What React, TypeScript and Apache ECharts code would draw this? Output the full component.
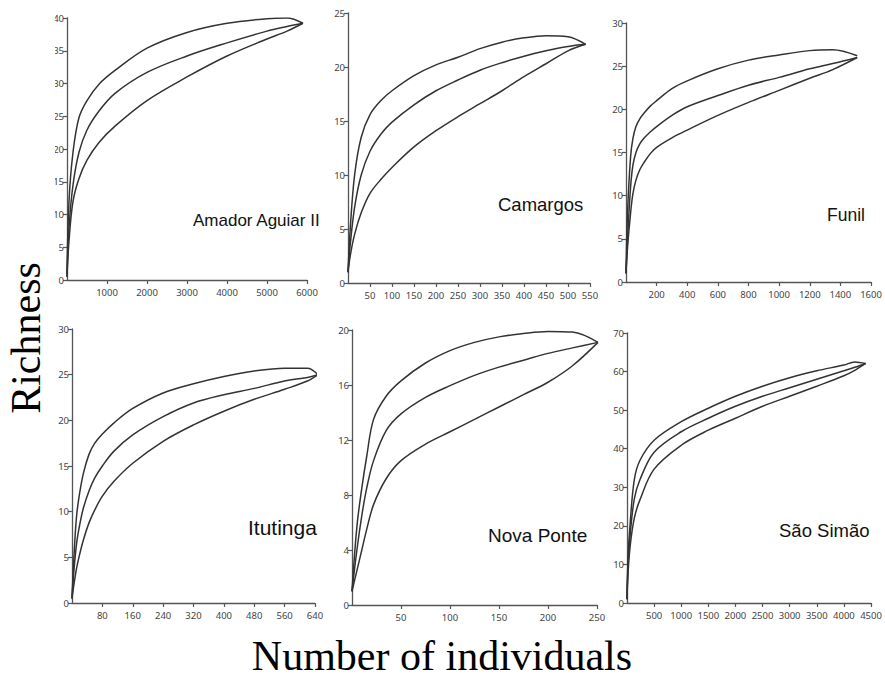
import React, { useEffect, useRef } from "react";
import * as echarts from "echarts";

// ---- Data ----
const panelNames = ["Amador Aguiar II", "Camargos", "Funil", "Itutinga", "Nova Ponte", "São Simão"];

// Amador Aguiar II
const amadorX = [0, 50, 150, 300, 500, 800, 1200, 2000, 3000, 4000, 5000, 5500, 5900];
const amadorUpper = [1, 12, 19.5, 24.8, 27.4, 29.9, 32.0, 35.4, 37.8, 39.2, 39.9, 40, 39.2];
const amadorMean = [0.5, 8, 14.5, 19.5, 22.9, 25.8, 28.5, 31.7, 34.2, 36.2, 38, 38.7, 39.2];
const amadorLower = [0.5, 6, 12, 15.5, 18.3, 21, 23.5, 27.4, 31, 34.2, 36.8, 38, 39.2];

// Camargos
const camargosX = [0, 5, 15, 30, 50, 75, 100, 150, 200, 250, 300, 350, 400, 450, 500, 540];
const camargosUpper = [1, 5, 10, 13.5, 15.6, 16.9, 17.8, 19.2, 20.2, 20.9, 21.7, 22.3, 22.7, 22.9, 22.8, 22.1];
const camargosMean = [1, 3.5, 7, 10, 12.2, 13.8, 14.9, 16.5, 17.8, 18.8, 19.7, 20.4, 21.0, 21.5, 21.9, 22.1];
const camargosLower = [1, 2.5, 4.5, 6.5, 8.3, 9.6, 10.7, 12.6, 14.1, 15.4, 16.6, 17.8, 19.1, 20.3, 21.5, 22.1];

// Funil
const funilX = [0, 10, 30, 45, 65, 90, 120, 160, 200, 300, 400, 600, 800, 1000, 1200, 1350, 1510];
const funilUpper = [1, 8, 14.5, 16.6, 18, 18.9, 19.6, 20.4, 21.0, 22.4, 23.3, 24.7, 25.7, 26.3, 26.8, 26.9, 26.2];
const funilMean = [1, 5, 11, 13.5, 15.0, 16.0, 16.7, 17.4, 18.0, 19.3, 20.3, 21.6, 22.8, 23.7, 24.7, 25.3, 26];
const funilLower = [1, 4, 8, 10.2, 11.8, 13, 13.9, 14.9, 15.6, 16.7, 17.6, 19.3, 20.8, 22.2, 23.6, 24.6, 26];

// Itutinga
const itutingaX = [0, 5, 12, 20, 30, 45, 60, 80, 110, 160, 240, 320, 400, 480, 560, 620, 648];
const itutingaUpper = [0.5, 5, 9.5, 12, 14.2, 16.3, 17.5, 18.5, 19.7, 21.3, 23, 24, 24.8, 25.4, 25.7, 25.7, 25];
const itutingaMean = [0.5, 3.5, 6.5, 8.5, 10.4, 12.3, 13.7, 15.0, 16.6, 18.4, 20.4, 21.9, 22.8, 23.5, 24.3, 24.7, 25];
const itutingaLower = [0.5, 2, 3.8, 5.3, 6.9, 8.8, 10.2, 11.7, 13.3, 15.3, 17.7, 19.5, 21, 22.3, 23.4, 24.3, 25];

// Nova Ponte
const novaX = [0, 5, 10, 15, 22, 35, 50, 75, 100, 125, 150, 175, 200, 225, 251];
const novaUpper = [1, 5.7, 8.5, 10.8, 13.5, 15.2, 16.3, 17.6, 18.5, 19.1, 19.5, 19.75, 19.9, 19.85, 19.1];
const novaMean = [1, 4, 6.5, 8.5, 10.5, 12.7, 13.9, 15.1, 15.95, 16.7, 17.3, 17.8, 18.3, 18.7, 19.1];
const novaLower = [1, 2.5, 4, 5.5, 7.3, 9.2, 10.5, 11.7, 12.6, 13.5, 14.4, 15.3, 16.2, 17.4, 19.1];

// São Simão
const saoX = [0, 20, 60, 135, 240, 500, 1000, 1500, 2000, 2500, 3000, 3500, 4000, 4200, 4400];
const saoUpper = [1, 12, 21, 32, 37, 42.2, 47, 50.5, 53.6, 56.2, 58.4, 60.2, 61.7, 62.5, 62.1];
const saoMean = [1, 10, 18, 27, 32, 39.1, 44.4, 47.9, 51, 53.6, 55.8, 58, 60.2, 61.1, 62.1];
const saoLower = [1, 8, 15, 22, 26.8, 34.7, 40.9, 44.8, 47.9, 51, 53.6, 56.2, 58.9, 60.3, 62.1];

// Axis scales
const xMax = [6000, 550, 1600, 640, 250, 4500];
const xInterval = [1000, 50, 200, 80, 50, 500];
const yMax = [40, 25, 30, 30, 20, 70];
const yInterval = [5, 5, 5, 5, 4, 10];

const yTitle = "Richness";
const xTitle = "Number of individuals";

const panelX = [amadorX, camargosX, funilX, itutingaX, novaX, saoX];
const panelCurves = [
  [amadorUpper, amadorMean, amadorLower],
  [camargosUpper, camargosMean, camargosLower],
  [funilUpper, funilMean, funilLower],
  [itutingaUpper, itutingaMean, itutingaLower],
  [novaUpper, novaMean, novaLower],
  [saoUpper, saoMean, saoLower],
];

// ---- Layout (pixels) ----
const gridBoxes = [
  { left: 67, top: 18, width: 240, height: 262 },
  { left: 348, top: 13, width: 242, height: 270 },
  { left: 626, top: 23, width: 245, height: 259 },
  { left: 72, top: 329, width: 243, height: 274 },
  { left: 352, top: 330, width: 245, height: 275 },
  { left: 627, top: 333, width: 244, height: 270 },
];
const labelPos = [
  [193, 220],
  [498, 204],
  [827, 215],
  [248, 527],
  [488, 535],
  [779, 530],
];
const labelSize = [17, 18.5, 17.5, 21, 19, 18.5];

const axisColor = "#555";
const lineColor = "#333";
const tickFont = "Noto Sans";

export default function App() {
  const ref = useRef<HTMLDivElement>(null);
  useEffect(() => {
    if (!ref.current) return;
    const chart = echarts.init(ref.current, undefined, { renderer: "svg" });

    const plain = (v: number) => String(v);
    const grid = gridBoxes.map((g) => ({ ...g, containLabel: false }));
    const xAxis = gridBoxes.map((_, i) => ({
      type: "value",
      gridIndex: i,
      min: 0,
      max: xMax[i],
      interval: xInterval[i],
      axisLine: { show: true, onZero: false, lineStyle: { color: axisColor, width: 1.3 } },
      axisTick: { show: true, length: 4, lineStyle: { color: axisColor, width: 1.2 } },
      axisLabel: {
        showMinLabel: false,
        fontSize: 9.5,
        color: "#444",
        fontFamily: tickFont,
        margin: 7,
        formatter: plain,
      },
      splitLine: { show: false },
    }));
    const yAxis = gridBoxes.map((_, i) => ({
      type: "value",
      gridIndex: i,
      min: 0,
      max: yMax[i],
      interval: yInterval[i],
      axisLine: { show: true, onZero: false, lineStyle: { color: axisColor, width: 1.3 } },
      axisTick: { show: true, length: 4, lineStyle: { color: axisColor, width: 1.2 } },
      axisLabel: {
        fontSize: 9.5,
        color: "#444",
        fontFamily: tickFont,
        margin: 3,
        formatter: plain,
      },
      splitLine: { show: false },
    }));

    const series: any[] = [];
    panelCurves.forEach((curves, i) => {
      curves.forEach((ys, k) => {
        series.push({
          type: "line",
          name: panelNames[i] + "-" + k,
          xAxisIndex: i,
          yAxisIndex: i,
          data: panelX[i].map((x, j) => [x, ys[j]]),
          showSymbol: false,
          symbol: "none",
          smooth: 0.35,
          lineStyle: { color: lineColor, width: 1.5 },
          z: 3,
        });
      });
    });

    const graphic: any[] = [
      // the first panel's tick labels are cut off at the left edge in the reference
      {
        type: "rect",
        shape: { x: 0, y: 0, width: 55, height: 292 },
        style: { fill: "#fff" },
        z: 100,
      },
      ...panelNames.map((name, i) => ({
        type: "text",
        x: labelPos[i][0],
        y: labelPos[i][1],
        z: 101,
        style: {
          text: name,
          fontSize: labelSize[i],
          fontFamily: "Liberation Sans",
          fill: "#111",
          align: "left",
          verticalAlign: "middle",
        },
      })),
      {
        type: "text",
        x: 26,
        y: 338,
        rotation: Math.PI / 2,
        z: 101,
        style: {
          text: yTitle,
          fontSize: 42,
          fontFamily: "Liberation Serif",
          fill: "#000",
          align: "center",
          verticalAlign: "middle",
        },
      },
      {
        type: "text",
        x: 442,
        y: 656,
        z: 101,
        style: {
          text: xTitle,
          fontSize: 42,
          fontFamily: "Liberation Serif",
          fill: "#000",
          align: "center",
          verticalAlign: "middle",
        },
      },
    ];

    chart.setOption({
      animation: false,
      backgroundColor: "#fff",
      grid,
      xAxis,
      yAxis,
      series,
      graphic,
    });
    return () => chart.dispose();
  }, []);
  return (
    <div
      ref={ref}
      style={{ position: "absolute", left: 0, top: 0, width: 885, height: 678, background: "#fff" }}
    />
  );
}
